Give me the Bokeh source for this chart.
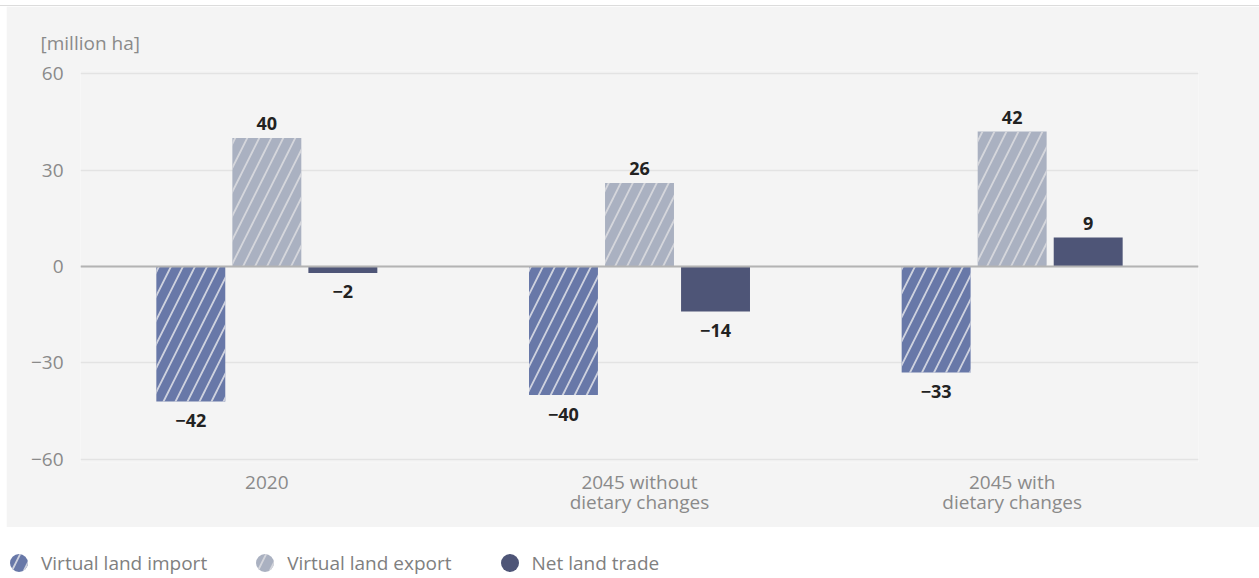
from bokeh.plotting import figure
from bokeh.models import (FactorRange, Range1d, ColumnDataSource, Span, Legend,
                          LegendItem, FixedTicker, Spacer)
from bokeh.transform import dodge
from bokeh.layouts import column, row
from bokeh.embed import file_html
from bokeh.resources import INLINE
from bokeh.core.properties import value

# ---------------- data ----------------
categories = ["2020", "2045 without\ndietary changes", "2045 with\ndietary changes"]
series_names = ["Virtual land import", "Virtual land export", "Net land trade"]
land_import = [-42, -40, -33]
land_export = [40, 26, 42]
net_trade = [-2, -14, 9]
y_ticks = [-60, -30, 0, 30, 60]
y_tick_labels = ["\u221260", "\u221230", "0", "30", "60"]
unit_label = "[million ha]"

# ---------------- style ----------------
FONT = "Open Sans"
BG = "#f4f4f4"
AXIS_TXT = "#8a8a8a"
colors = ["#6878a8", "#aab1c1", "#4e5577"]
hatch = [dict(hatch_pattern="/", hatch_color="#d9dce4", hatch_alpha=0.9,
              hatch_weight=1.8, hatch_scale=24),
         dict(hatch_pattern="/", hatch_color="#d9dadf", hatch_alpha=0.9,
              hatch_weight=1.8, hatch_scale=24),
         dict()]
offsets = [-0.204, 0.0, 0.204]
bar_w = 0.185


def fmt(v):
    return ("\u2212" + str(abs(v))) if v < 0 else str(v)


p = figure(x_range=FactorRange(factors=categories), y_range=Range1d(-61, 61),
           width=1253, height=521, output_backend="svg", toolbar_location=None,
           min_border_left=74, min_border_right=61, min_border_top=64,
           min_border_bottom=65, background_fill_color=BG, border_fill_color=BG,
           outline_line_color=None)

p.title.text = unit_label
p.title.align = "left"
p.title.offset = -40
p.title.standoff = 29
p.title.text_font = FONT
p.title.text_font_size = "19px"
p.title.text_font_style = "normal"
p.title.text_color = AXIS_TXT

series = [land_import, land_export, net_trade]
for vals, name, col, off, h in zip(series, series_names, colors, offsets, hatch):
    src = ColumnDataSource(dict(
        cat=categories, val=vals, lab=[fmt(v) for v in vals],
        yoff=[-14 if v > 0 else 19 for v in vals]))
    x = dodge("cat", off, range=p.x_range)
    p.vbar(x=x, top="val", bottom=0, width=bar_w, source=src, fill_color=col,
           line_color=None, **h)
    p.text(x=x, y="val", text="lab", y_offset="yoff", source=src,
           text_align="center", text_baseline="middle",
           text_font=value(FONT), text_font_style="bold",
           text_font_size="18px", text_color="#222222")

p.add_layout(Span(location=0, dimension="width", line_color="#b3b3b3",
                  line_width=2))

p.xgrid.visible = False
p.ygrid.ticker = FixedTicker(ticks=y_ticks)
p.ygrid.grid_line_color = "#e3e3e3"
p.ygrid.grid_line_width = 1.5

p.yaxis.ticker = FixedTicker(ticks=y_ticks)
p.yaxis.major_label_overrides = dict(zip(y_ticks, y_tick_labels))
for ax in (p.xaxis, p.yaxis):
    ax.axis_line_color = None
    ax.major_tick_line_color = None
    ax.minor_tick_line_color = None
    ax.major_tick_out = 0
    ax.major_tick_in = 0
    ax.major_label_text_font = FONT
    ax.major_label_text_font_size = "19px"
    ax.major_label_text_color = AXIS_TXT
p.yaxis.major_label_standoff = 17
p.xaxis.major_label_standoff = 6
p.xaxis.major_label_text_line_height = 0.8

# ---------------- legend strip ----------------
lg = figure(width=1253, height=50, output_backend="svg", toolbar_location=None,
            x_range=Range1d(0, 1), y_range=Range1d(0, 1), min_border=0,
            x_axis_location=None, y_axis_location=None, outline_line_color=None,
            border_fill_color="white", background_fill_color="white")
lg.frame_align = False
lg.grid.visible = False
items = []
for name, col, h in zip(series_names, colors, hatch):
    r = lg.scatter(x=[-5], y=[-5], marker="circle", size=18, fill_color=col,
                   line_color=None, **h)
    items.append(LegendItem(label=name, renderers=[r]))
legend = Legend(items=items, orientation="horizontal", location=(-10, -8),
                glyph_width=45, glyph_height=45, label_standoff=0, spacing=35,
                padding=0, margin=0, border_line_color=None,
                background_fill_alpha=0, label_text_font=FONT,
                label_text_font_size="19px", label_text_color="#808080")
lg.add_layout(legend)

top_rule = Spacer(width=1259, height=1, styles={"background-color": "#dcdcdc"})
layout = column(Spacer(height=5), top_rule,
                row(Spacer(width=6), p, spacing=0),
                row(Spacer(width=6), lg, spacing=0), spacing=0)
open("out.html", "w").write(file_html(layout, INLINE))
